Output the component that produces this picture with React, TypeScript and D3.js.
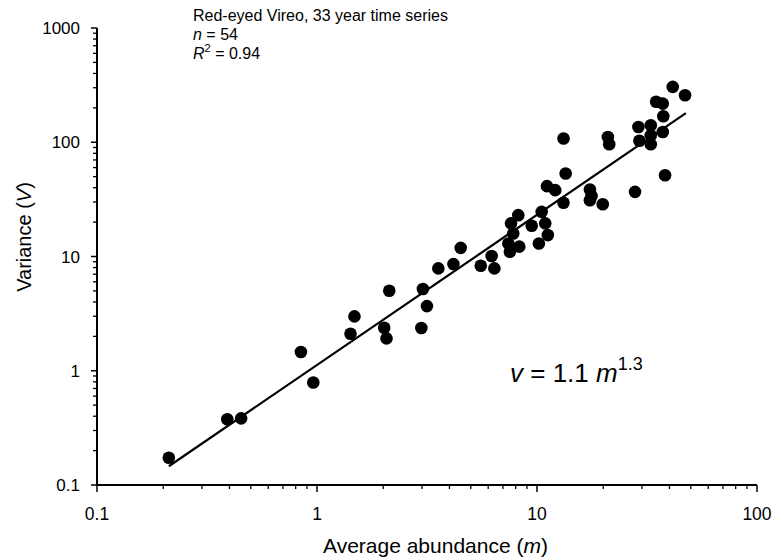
import React from "react";
import * as d3 from "d3";

const abundance = [
  0.212, 0.391, 0.452, 0.845, 0.962, 1.42, 1.48, 2.02, 2.07, 2.13,
  2.98, 3.03, 3.16, 3.56, 4.17, 4.5, 5.55, 6.22, 6.4, 8.22,
  7.62, 7.8, 7.41, 7.53, 8.31, 9.46, 10.5, 10.9, 11.2, 10.2,
  11.1, 12.1, 13.2, 13.5, 13.2, 17.4, 17.4, 17.7, 19.9, 21.0,
  21.3, 27.9, 28.9, 29.2, 32.9, 32.9, 32.9, 37.3, 38.2, 37.5,
  34.8, 37.3, 41.4, 47.1,
];
const variance = [
  0.173, 0.376, 0.383, 1.46, 0.79, 2.11, 2.99, 2.38, 1.92, 5.01,
  2.37, 5.19, 3.68, 7.87, 8.58, 11.9, 8.29, 10.1, 7.87, 23.0,
  19.5, 15.9, 13.0, 11.0, 12.2, 18.6, 24.6, 19.5, 15.4, 13.0,
  41.3, 38.1, 29.5, 53.3, 108, 38.6, 31.1, 33.8, 28.7, 111,
  96.2, 36.8, 136, 103, 141, 96.2, 115, 123, 51.5, 169,
  226, 218, 305, 258,
];
const fitX = [0.212, 47.5];
const fitY = [0.146, 180];
const xTicks = [0.1, 1, 10, 100];
const yTicks = [0.1, 1, 10, 100, 1000];
const xTickLabels = ["0.1", "1", "10", "100"];
const yTickLabels = ["0.1", "1", "10", "100", "1000"];

const W = 773;
const H = 558;
const FONT = "'Liberation Sans', Arial, Helvetica, sans-serif";

function minors(lo: number, hi: number): number[] {
  const out: number[] = [];
  for (let d = lo; d < hi; d *= 10) {
    for (let k = 2; k <= 9; k++) out.push(d * k);
  }
  return out;
}

export default function App() {
  const x = d3.scaleLog().domain([0.1, 100]).range([97, 757]);
  const y = d3.scaleLog().domain([0.1, 1000]).range([485, 28]);
  const [x0, x1] = x.range();
  const [y0, y1] = y.range();
  const line = d3
    .line<number>()
    .x((_, i) => x(fitX[i]))
    .y((_, i) => y(fitY[i]));

  return (
    <div style={{ position: "fixed", left: 0, top: 0, width: W, height: H, background: "#fff" }}>
      <svg width={W} height={H} style={{ display: "block" }} fontFamily={FONT}>
        <rect width={W} height={H} fill="#fff" />
        {/* axes */}
        <line x1={x0} x2={x1} y1={y0} y2={y0} stroke="#000" strokeWidth={2} />
        <line x1={x0} x2={x0} y1={y0 + 1} y2={y1} stroke="#000" strokeWidth={2} />
        {minors(0.1, 100).map((v, i) => (
          <line key={"xm" + i} x1={x(v)} x2={x(v)} y1={y0} y2={y0 + 4} stroke="#000" strokeWidth={1.3} />
        ))}
        {xTicks.map((v, i) => (
          <g key={"xt" + i}>
            <line x1={x(v)} x2={x(v)} y1={y0} y2={y0 + 7} stroke="#000" strokeWidth={1.5} />
            <text x={x(v)} y={520} textAnchor="middle" fontSize={17.5}>
              {xTickLabels[i]}
            </text>
          </g>
        ))}
        {minors(0.1, 1000).map((v, i) => (
          <line key={"ym" + i} x1={x0 - 4} x2={x0} y1={y(v)} y2={y(v)} stroke="#000" strokeWidth={1.3} />
        ))}
        {yTicks.map((v, i) => (
          <g key={"yt" + i}>
            <line x1={x0 - 6} x2={x0} y1={y(v)} y2={y(v)} stroke="#000" strokeWidth={1.5} />
            <text x={80} y={y(v) + 6} textAnchor="end" fontSize={17}>
              {yTickLabels[i]}
            </text>
          </g>
        ))}
        {/* axis titles */}
        <text x={323} y={553} fontSize={21}>
          Average abundance (<tspan fontStyle="italic">m</tspan>)
        </text>
        <text transform="translate(31,237) rotate(-90)" textAnchor="middle" fontSize={20}>
          Variance (<tspan fontStyle="italic">V</tspan>)
        </text>
        {/* fit line */}
        <path d={line(fitX) || ""} fill="none" stroke="#000" strokeWidth={2.2} />
        {/* points */}
        {abundance.map((m, i) => (
          <circle key={"p" + i} cx={x(m)} cy={y(variance[i])} r={6.3} fill="#000" />
        ))}
        {/* annotations */}
        <text x={193} y={21} fontSize={16}>
          Red-eyed Vireo, 33 year time series
        </text>
        <text x={193} y={40} fontSize={16}>
          <tspan fontStyle="italic">n</tspan> = 54
        </text>
        <text x={193} y={59} fontSize={16}>
          <tspan fontStyle="italic">R</tspan>
          <tspan fontSize={11} dy={-7}>2</tspan>
          <tspan dy={7}> = 0.94</tspan>
        </text>
        <text x={510} y={382} fontSize={26}>
          <tspan fontStyle="italic">v</tspan> = 1.1 <tspan fontStyle="italic">m</tspan>
          <tspan fontSize={18} dy={-12}>1.3</tspan>
        </text>
      </svg>
    </div>
  );
}
